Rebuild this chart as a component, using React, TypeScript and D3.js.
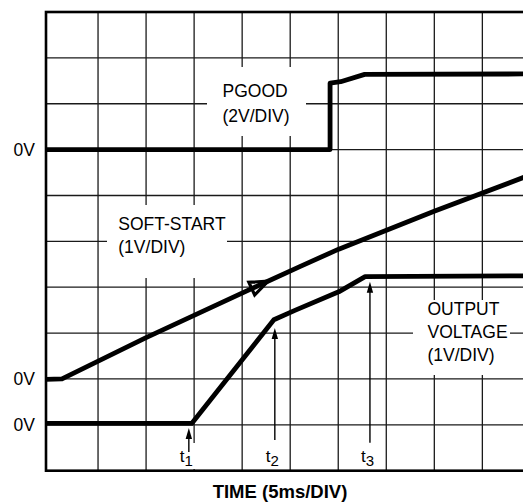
import React from "react";
import * as d3 from "d3";

// ---- data (in scope divisions) ----
const gridCols = [1, 2, 3, 4, 5, 6, 7, 8, 9, 10];
const gridRows = [1, 2, 3, 4, 5, 6, 7, 8, 9];

const pgoodX = [-0.08, 5.83, 5.83, 6.05, 6.55, 9.95];
const pgoodY = [7.0, 7.0, 8.45, 8.48, 8.64, 8.65];

const softX = [-0.08, 0.25, 2.0, 4.41, 5.2, 6.01, 8.01, 9.95];
const softY = [1.99, 2.0, 2.9, 4.07, 4.45, 4.83, 5.66, 6.43];

const outX = [-0.08, 2.95, 4.66, 5.11, 6.01, 6.56, 9.95];
const outY = [1.03, 1.03, 3.29, 3.5, 3.9, 4.23, 4.25];

const markerNames = ["1", "2", "3"];
const markerX = [2.89, 4.68, 6.66];
const markerTip = [0.93, 3.11, 4.12];
const markerTail = [0.41, 0.67, 0.61];

const zeroLabels = ["0V", "0V", "0V"];
const zeroLevels = [7, 2, 1];

const softArrowAt = 4.54;

const W = 523;
const H = 502;
const frameLeft = 46;
const frameTop = 12;
const frameBottom = 470.7;
const frameRight = 531;

const x = d3.scaleLinear().domain([0, 10]).range([50, 530.4]);
const y = d3.scaleLinear().domain([0, 10]).range([frameBottom, frameTop]);

const FONT = "'Liberation Sans', Arial, Helvetica, sans-serif";

function interp(xs: number[], ys: number[], v: number) {
  for (let i = 0; i < xs.length - 1; i++) {
    if (v >= xs[i] && v <= xs[i + 1] && xs[i + 1] !== xs[i]) {
      const t = (v - xs[i]) / (xs[i + 1] - xs[i]);
      return { y: ys[i] + t * (ys[i + 1] - ys[i]), i };
    }
  }
  return { y: ys[ys.length - 1], i: xs.length - 2 };
}

export default function App() {
  const line = d3
    .line<[number, number]>()
    .x((d) => x(d[0]))
    .y((d) => y(d[1]));
  const zip = (a: number[], b: number[]) => a.map((v, i) => [v, b[i]] as [number, number]);

  // soft-start arrowhead
  const ip = interp(softX, softY, softArrowAt);
  const tipX = x(softArrowAt);
  const tipY = y(ip.y);
  const dx = x(softX[ip.i + 1]) - x(softX[ip.i]);
  const dy = y(softY[ip.i + 1]) - y(softY[ip.i]);
  const len = Math.hypot(dx, dy);
  const ux = dx / len;
  const uy = dy / len;
  const bx = tipX - 18 * ux;
  const by = tipY - 18 * uy;
  const nx = -uy;
  const ny = ux;
  const tri = `M${tipX},${tipY}L${bx + 7 * nx},${by + 7 * ny}L${bx - 7 * nx},${by - 7 * ny}Z`;

  const boxes = [
    { x0: 207, y0: 67, x1: 306, y1: 136 },
    { x0: 107, y0: 205, x1: 227, y1: 278 },
    { x0: 413, y0: 300, x1: 510, y1: 375 },
    { x0: 180, y0: 443, x1: 199, y1: 469 },
  ];

  return (
    <svg
      width={W}
      height={H}
      style={{ position: "absolute", left: 0, top: 0, background: "#fff" }}
      fontFamily={FONT}
    >
      <rect x={0} y={0} width={W} height={H} fill="#fff" />
      {/* grid */}
      <g stroke="#1a1a1a" strokeWidth={1.3}>
        {gridCols.map((c) => (
          <line key={"c" + c} x1={x(c)} x2={x(c)} y1={frameTop} y2={frameBottom} />
        ))}
        {gridRows.map((r) => (
          <line key={"r" + r} x1={frameLeft} x2={frameRight} y1={y(r)} y2={y(r)} />
        ))}
      </g>
      {/* label backgrounds */}
      {boxes.map((b, i) => (
        <rect key={i} x={b.x0} y={b.y0} width={b.x1 - b.x0} height={b.y1 - b.y0} fill="#fff" />
      ))}
      {/* frame */}
      <rect
        x={frameLeft}
        y={frameTop}
        width={frameRight - frameLeft}
        height={frameBottom - frameTop}
        fill="none"
        stroke="#000"
        strokeWidth={2.6}
      />
      {/* soft-start arrowhead */}
      <path d={tri} fill="#fff" stroke="#000" strokeWidth={3.2} strokeLinejoin="miter" />
      {/* traces */}
      <g fill="none" stroke="#000" strokeWidth={4.8} strokeLinejoin="round" strokeLinecap="butt">
        <path d={line(zip(pgoodX, pgoodY)) || ""} />
        <path d={line(zip(softX, softY)) || ""} />
        <path d={line(zip(outX, outY)) || ""} />
      </g>
      {/* markers */}
      {markerNames.map((n, i) => {
        const mx = x(markerX[i]);
        const ty = y(markerTip[i]);
        const ly = y(markerTail[i]);
        return (
          <g key={n}>
            <line x1={mx} x2={mx} y1={ty + 8} y2={ly} stroke="#000" strokeWidth={1.4} />
            <path d={`M${mx},${ty}L${mx - 3.2},${ty + 11}L${mx + 3.2},${ty + 11}Z`} fill="#000" />
            <text x={mx - 2.5} y={462} textAnchor="middle" fontSize={17} fill="#000">
              t<tspan fontSize={15} dy={4}>{n}</tspan>
            </text>
          </g>
        );
      })}
      {/* zero labels */}
      {zeroLabels.map((l, i) => (
        <text key={i} x={35} y={y(zeroLevels[i]) + 6.3} textAnchor="end" fontSize={17.5} fill="#000">
          {l}
        </text>
      ))}
      {/* trace labels */}
      <g fontSize={17.5} fill="#000">
        <text x={222.5} y={97.3}>PGOOD</text>
        <text x={222.5} y={121.7}>(2V/DIV)</text>
        <text x={118.3} y={230}>SOFT-START</text>
        <text x={118.3} y={253}>(1V/DIV)</text>
        <text x={427.5} y={315}>OUTPUT</text>
        <text x={427.5} y={337.5}>VOLTAGE</text>
        <text x={427.5} y={360.5}>(1V/DIV)</text>
      </g>
      <text x={280} y={498.3} textAnchor="middle" fontSize={18.5} fontWeight="bold" fill="#000">
        TIME (5ms/DIV)
      </text>
    </svg>
  );
}
